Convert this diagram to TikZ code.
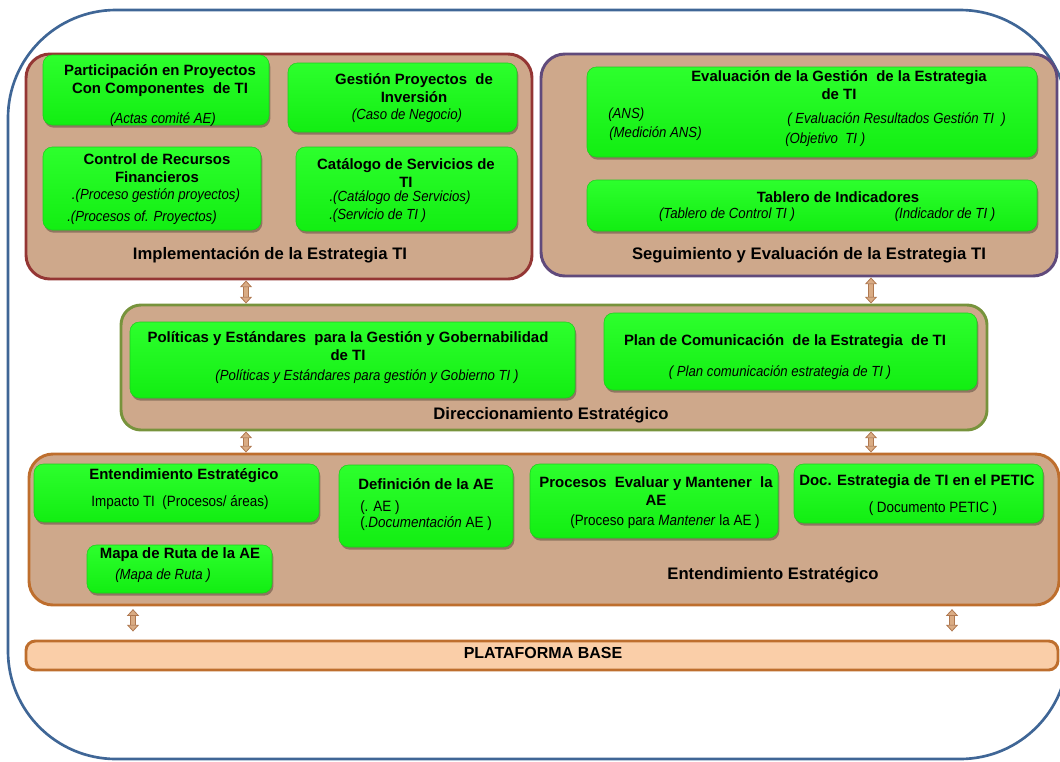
\documentclass[tikz,border=0pt]{standalone}
\usepackage{fontspec}
\setmainfont{Liberation Sans}
\newfontfamily\nar[FakeStretch=0.9]{Liberation Sans}
\usetikzlibrary{fit,shadows,arrows.meta}
\definecolor{framec}{RGB}{63,102,150}
\definecolor{tanc}{RGB}{206,168,139}
\definecolor{cimpl}{RGB}{148,54,52}
\definecolor{cseg}{RGB}{96,74,123}
\definecolor{cdir}{RGB}{119,147,60}
\definecolor{cent}{RGB}{190,110,45}
\definecolor{platfill}{RGB}{250,206,168}
\definecolor{gtop}{RGB}{45,255,45}
\definecolor{gbot}{RGB}{18,238,18}
\definecolor{gline}{RGB}{30,205,30}
\definecolor{arrline}{RGB}{175,120,80}
\definecolor{arrfill}{RGB}{218,172,132}
\begin{document}
\begin{tikzpicture}[x=0.75pt,y=-0.75pt,
  frame/.style={draw=framec, line width=2pt, rounded corners=81pt},
  cont/.style={fill=tanc, line width=2.2pt, rounded corners=18pt, inner sep=0pt},
  plat/.style={fill=platfill, draw=cent, line width=2.2pt, rounded corners=7pt, inner sep=0pt},
  gbox/.style={top color=gtop, bottom color=gbot, draw=gline, line width=0.4pt, rounded corners=7pt, inner sep=0pt,
    drop shadow={shadow xshift=1pt, shadow yshift=-2pt, opacity=0.3, fill=black}},
  ttl/.style={font=\fontsize{11.2}{13.5}\selectfont\bfseries, align=center, inner sep=0pt},
  sub/.style={font=\nar\fontsize{11}{13}\selectfont\itshape, inner sep=0pt},
  subu/.style={font=\nar\fontsize{11.2}{13}\selectfont, inner sep=0pt},
  lbl/.style={font=\fontsize{12.5}{15}\selectfont\bfseries, inner sep=0pt},
  link/.style={draw=arrline, line width=0.6pt, double=arrfill, double distance=3pt,
    {Triangle[width=9pt,length=5pt,fill=arrfill]}-{Triangle[width=9pt,length=5pt,fill=arrfill]}}
]
\useasboundingbox (0,0) rectangle (1060,761);
\begin{scope}
\clip (0,0) rectangle (1060,761);
\draw[frame] (8,10) rectangle (1068,759);
\end{scope}

% containers
\node[cont, draw=cimpl, fit={(26,54) (532,279)}] (impl) {};
\node[cont, draw=cseg, fit={(541,54) (1057,276)}] (seg) {};
\node[cont, draw=cdir, rounded corners=15pt, fit={(121,305) (987,430)}] (dir) {};
\node[cont, draw=cent, fit={(29,454) (1059,605)}] (ent) {};
\node[plat, fit={(26,641) (1058,670)}] (plat) {};

% green boxes
\node[gbox, fit={(43,55) (269,125)}] (part) {};
\node[gbox, fit={(288,63) (517,132)}] (gest) {};
\node[gbox, fit={(43,147) (261,230)}] (ctrl) {};
\node[gbox, fit={(296,147) (517,231)}] (cat) {};
\node[gbox, fit={(587,67) (1037,157)}] (eval) {};
\node[gbox, fit={(587,180) (1037,231)}] (tab) {};
\node[gbox, fit={(130,322) (575,398)}] (pol) {};
\node[gbox, fit={(604,313) (977,390)}] (plan) {};
\node[gbox, fit={(34,464) (319,522)}] (entg) {};
\node[gbox, fit={(339,465) (513,547)}] (defi) {};
\node[gbox, fit={(87,545) (272,593)}] (mapa) {};
\node[gbox, fit={(530,464) (778,538)}] (proc) {};
\node[gbox, fit={(794,464) (1043,523)}] (petic) {};

% Implementacion texts
\node[ttl] (partt) at (160,81) {Participación en Proyectos\\Con Componentes\ \ de TI};
\node[sub] (parts) at (163,120) {(Actas comité AE)};
\node[ttl] (gestt) at (414,88) {Gestión Proyectos\ \ de\\Inversión};
\node[sub] (gests) at (407,116) {(Caso de Negocio)};
\node[ttl] (ctrlt) at (157,168) {Control de Recursos\\Financieros};
\node[sub] (ctrls1) at (156,196) {.(Proceso gestión proyectos)};
\node[sub] (ctrls2) at (142,218) {.(Procesos of. Proyectos)};
\node[ttl] (catt) at (406,173) {Catálogo de Servicios de\\TI};
\node[sub] (cats1) at (400,198) {.(Catálogo de Servicios)};
\node[sub, anchor=west] (cats2) at (329,216) {.(Servicio de TI )};
\node[lbl] (impll) at (270,255) {Implementación de la Estrategia TI};

% Seguimiento texts
\node[ttl] (evalt) at (839,85) {Evaluación de la Gestión\ \ de la Estrategia\\de TI};
\node[sub, anchor=west] (evs1) at (608,115) {(ANS)};
\node[sub, anchor=west] (evs2) at (609,134) {(Medición ANS)};
\node[sub, anchor=west] (evs3) at (787,120) {( Evaluación Resultados Gestión TI\ \ )};
\node[sub, anchor=west] (evs4) at (785,140) {(Objetivo\ \ TI )};
\node[ttl] (tabt) at (838,197) {Tablero de Indicadores};
\node[sub] (tabs1) at (727,215) {(Tablero de Control TI )};
\node[sub] (tabs2) at (945,215) {(Indicador de TI )};
\node[lbl] (segl) at (809,255) {Seguimiento y Evaluación de la Estrategia TI};

% Direccionamiento texts
\node[ttl] (polt) at (348,346) {Políticas y Estándares\ \ para la Gestión y Gobernabilidad\\de TI};
\node[sub] (pols) at (367,377) {(Políticas y Estándares para gestión y Gobierno TI )};
\node[ttl] (plant) at (785,342) {Plan de Comunicación\ \ de la Estrategia\ \ de TI};
\node[sub] (plans) at (780,373) {( Plan comunicación estrategia de TI )};
\node[lbl] (dirl) at (551,415) {Direccionamiento Estratégico};

% Entendimiento texts
\node[ttl] (entt) at (184,476) {Entendimiento Estratégico};
\node[subu] (ents) at (180,503) {Impacto TI\ \ (Procesos/ áreas)};
\node[ttl] (defit) at (426,484) {Definición de la AE};
\node[subu, anchor=west] (defis1) at (360,508) {(. AE )};
\node[subu, anchor=west] (defis2) at (360,524) {(.\textit{Documentación} AE )};
\node[ttl] (mapat) at (180,555) {Mapa de Ruta de la AE};
\node[sub] (mapas) at (163,576) {(Mapa de Ruta )};
\node[ttl] (proct) at (656,491) {Procesos\ \ Evaluar y Mantener\ \ la\\AE};
\node[subu] (procs) at (665,522) {(Proceso para \textit{Mantener} la AE )};
\node[ttl] (petict) at (917,482) {Doc. Estrategia de TI en el PETIC};
\node[subu] (petics) at (933,509) {( Documento PETIC )};
\node[lbl] (entl) at (773,575) {Entendimiento Estratégico};

\node[lbl, font=\fontsize{12}{14}\selectfont\bfseries] (platl) at (543,653) {PLATAFORMA BASE};

% connectors
\coordinate (xl) at (246,0);
\coordinate (xr) at (871,0);
\coordinate (xbl) at (133,0);
\coordinate (xbr) at (952,0);
\draw[link] (xl |- impl.south) -- (xl |- dir.north);
\draw[link] (xr |- seg.south) -- (xr |- dir.north);
\draw[link] (xl |- dir.south) -- (xl |- ent.north);
\draw[link] (xr |- dir.south) -- (xr |- ent.north);
\draw[link, shorten <=2pt, shorten >=6pt] (xbl |- ent.south) -- (xbl |- plat.north);
\draw[link, shorten <=2pt, shorten >=6pt] (xbr |- ent.south) -- (xbr |- plat.north);
\end{tikzpicture}
\end{document}
